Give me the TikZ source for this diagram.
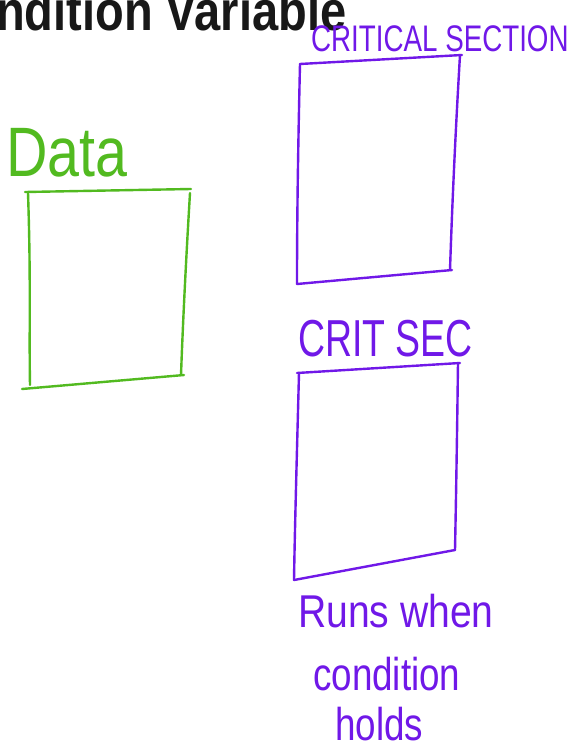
\documentclass[tikz,border=0pt]{standalone}
\usepackage{fontspec}
\setmainfont{Liberation Sans}
\definecolor{inkgreen}{RGB}{82,186,32}
\definecolor{inkpurple}{RGB}{112,24,232}
\definecolor{inkblack}{RGB}{24,24,24}
\tikzset{
  greenpen/.style={draw=inkgreen, line width=2.4pt, line cap=round, line join=round},
  purplepen/.style={draw=inkpurple, line width=2.4pt, line cap=round, line join=round},
  label/.style={inner sep=0pt, anchor=base west},
}
\begin{document}
\begin{tikzpicture}[x=1pt, y=-1pt]
  \useasboundingbox (0,0) rectangle (582,750);
  \clip (0,0) rectangle (582,750);
  \fill[white] (0,0) rectangle (582,750);

  % heading, running off the top edge
  \node[label, text=inkblack, xscale=0.84, font=\bfseries\fontsize{56}{60}\selectfont] (title) at (-4,30) {ndition Variable};

  % Data buffer
  \node[label, text=inkgreen, xscale=0.82, font=\fontsize{70}{74}\selectfont] (data) at (6,176) {Data};
  \draw[greenpen] (25,192) -- (191,189);
  \draw[greenpen] (28,193) .. controls (31,280) and (29,330) .. (30,385);
  \draw[greenpen] (190,193) .. controls (186,260) and (183,320) .. (181,375);
  \draw[greenpen] (22,389) -- (184,375);

  % first critical section
  \node[label, text=inkpurple, xscale=0.75, font=\fontsize{37}{40}\selectfont] (cs1) at (311,51) {CRITICAL SECTION};
  \draw[purplepen] (300,64) -- (462,55);
  \draw[purplepen] (300,64) .. controls (298,150) and (297,220) .. (297,284);
  \draw[purplepen] (460,55) .. controls (455,140) and (452,210) .. (450,270);
  \draw[purplepen] (297,284) -- (452,270);

  % second critical section
  \node[label, text=inkpurple, xscale=0.72, font=\fontsize{52}{56}\selectfont] (cs2) at (298,356) {CRIT SEC};
  \draw[purplepen] (297,373) -- (460,363);
  \draw[purplepen] (299,373) .. controls (297,450) and (295,520) .. (294,580);
  \draw[purplepen] (458,363) .. controls (457,440) and (456,500) .. (455,550);
  \draw[purplepen] (294,580) -- (455,550);

  % note under the second section
  \node[label, text=inkpurple, xscale=0.85, font=\fontsize{46}{50}\selectfont] (note1) at (298,627) {Runs when};
  \node[label, text=inkpurple, xscale=0.8, font=\fontsize{46}{50}\selectfont] (note2) at (313,690) {condition};
  \node[label, text=inkpurple, xscale=0.8, font=\fontsize{46}{50}\selectfont] (note3) at (335,740) {holds};
\end{tikzpicture}
\end{document}
